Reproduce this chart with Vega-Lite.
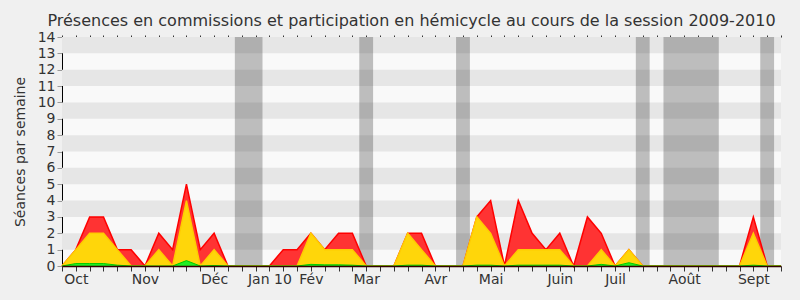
{
  "$schema": "https://vega.github.io/schema/vega-lite/v6.json",
  "width": 719,
  "height": 229,
  "autosize": {"type": "none"},
  "padding": {"left": 62, "top": 37, "right": 19, "bottom": 34},
  "background": "#f0f0f0",
  "title": {
    "text": "Présences en commissions et participation en hémicycle au cours de la session 2009-2010",
    "font": "DejaVu Sans",
    "fontSize": 16,
    "fontWeight": "normal",
    "color": "#333333",
    "anchor": "middle",
    "dx": -10,
    "offset": 1
  },
  "config": {
    "view": {"fill": "#f9f9f9", "stroke": null},
    "font": "DejaVu Sans"
  },
  "datasets": {
    "weeks": [
      {"w": 0, "total": 0, "comm": 0, "green": 0},
      {"w": 1, "total": 1, "comm": 1, "green": 0.15},
      {"w": 2, "total": 3, "comm": 2, "green": 0.15},
      {"w": 3, "total": 3, "comm": 2, "green": 0.15},
      {"w": 4, "total": 1, "comm": 1, "green": 0.05},
      {"w": 5, "total": 1, "comm": 0, "green": 0},
      {"w": 6, "total": 0, "comm": 0, "green": 0},
      {"w": 7, "total": 2, "comm": 1, "green": 0},
      {"w": 8, "total": 1, "comm": 0, "green": 0},
      {"w": 9, "total": 5, "comm": 4, "green": 0.33},
      {"w": 10, "total": 1, "comm": 0, "green": 0},
      {"w": 11, "total": 2, "comm": 1, "green": 0.03},
      {"w": 12, "total": 0, "comm": 0, "green": 0},
      {"w": 13, "total": 0, "comm": 0, "green": 0},
      {"w": 14, "total": 0, "comm": 0, "green": 0},
      {"w": 15, "total": 0, "comm": 0, "green": 0},
      {"w": 16, "total": 1, "comm": 0, "green": 0},
      {"w": 17, "total": 1, "comm": 0, "green": 0},
      {"w": 18, "total": 2, "comm": 2, "green": 0.1},
      {"w": 19, "total": 1, "comm": 1, "green": 0.07},
      {"w": 20, "total": 2, "comm": 1, "green": 0.07},
      {"w": 21, "total": 2, "comm": 1, "green": 0.05},
      {"w": 22, "total": 0, "comm": 0, "green": 0},
      {"w": 23, "total": 0, "comm": 0, "green": 0},
      {"w": 24, "total": 0, "comm": 0, "green": 0},
      {"w": 25, "total": 2, "comm": 2, "green": 0.05},
      {"w": 26, "total": 2, "comm": 1, "green": 0.05},
      {"w": 27, "total": 0, "comm": 0, "green": 0},
      {"w": 28, "total": 0, "comm": 0, "green": 0},
      {"w": 29, "total": 0, "comm": 0, "green": 0},
      {"w": 30, "total": 3, "comm": 3, "green": 0.05},
      {"w": 31, "total": 4, "comm": 2, "green": 0.05},
      {"w": 32, "total": 0, "comm": 0, "green": 0},
      {"w": 33, "total": 4, "comm": 1, "green": 0.05},
      {"w": 34, "total": 2, "comm": 1, "green": 0.05},
      {"w": 35, "total": 1, "comm": 1, "green": 0.05},
      {"w": 36, "total": 2, "comm": 1, "green": 0.05},
      {"w": 37, "total": 0, "comm": 0, "green": 0},
      {"w": 38, "total": 3, "comm": 0, "green": 0},
      {"w": 39, "total": 2, "comm": 1, "green": 0.1},
      {"w": 40, "total": 0, "comm": 0, "green": 0},
      {"w": 41, "total": 1, "comm": 1, "green": 0.2},
      {"w": 42, "total": 0, "comm": 0, "green": 0},
      {"w": 43, "total": 0, "comm": 0, "green": 0},
      {"w": 44, "total": 0, "comm": 0, "green": 0},
      {"w": 45, "total": 0, "comm": 0, "green": 0},
      {"w": 46, "total": 0, "comm": 0, "green": 0},
      {"w": 47, "total": 0, "comm": 0, "green": 0},
      {"w": 48, "total": 0, "comm": 0, "green": 0},
      {"w": 49, "total": 0, "comm": 0, "green": 0},
      {"w": 50, "total": 3, "comm": 2, "green": 0.05},
      {"w": 51, "total": 0, "comm": 0, "green": 0},
      {"w": 52, "total": 0, "comm": 0, "green": 0}
    ],
    "stripes": [
      {"lo": 1, "hi": 2}, {"lo": 3, "hi": 4}, {"lo": 5, "hi": 6},
      {"lo": 7, "hi": 8}, {"lo": 9, "hi": 10}, {"lo": 11, "hi": 12},
      {"lo": 13, "hi": 14}
    ],
    "holidays": [
      {"start": 12.5, "end": 14.5},
      {"start": 21.5, "end": 22.5},
      {"start": 28.5, "end": 29.5},
      {"start": 41.5, "end": 42.5},
      {"start": 43.5, "end": 47.5},
      {"start": 50.5, "end": 51.5}
    ]
  },
  "resolve": {"axis": {"x": "independent", "y": "independent"}},
  "layer": [
    {
      "data": {"name": "stripes"},
      "mark": {"type": "rect", "color": "#e6e6e6"},
      "encoding": {
        "y": {"field": "lo", "type": "quantitative", "scale": {"domain": [0, 14], "nice": false}, "axis": null},
        "y2": {"field": "hi"}
      }
    },
    {
      "data": {"name": "holidays"},
      "mark": {"type": "rect", "color": "#000000", "opacity": 0.24},
      "encoding": {
        "x": {"field": "start", "type": "quantitative", "scale": {"domain": [0, 52], "nice": false, "zero": false},
              "axis": {"orient": "top", "values": [0,1,2,3,4,5,6,7,8,9,10,11,12,13,14,15,16,17,18,19,20,21,22,23,24,25,26,27,28,29,30,31,32,33,34,35,36,37,38,39,40,41,42,43,44,45,46,47,48,49,50,51,52],
                       "labels": false, "domain": false, "grid": false, "tickSize": 2, "tickColor": "#333333", "title": null}},
        "x2": {"field": "end"}
      }
    },
    {
      "data": {"name": "weeks"},
      "mark": {"type": "area", "color": "#ff3333", "opacity": 1, "line": {"color": "#ff0000", "strokeWidth": 1.5}},
      "encoding": {
        "x": {"field": "w", "type": "quantitative", "scale": {"domain": [0, 52], "nice": false, "zero": false},
              "axis": {"orient": "bottom", "zindex": 1, "values": [0,1,2,3,4,5,6,7,8,9,10,11,12,13,14,15,16,17,18,19,20,21,22,23,24,25,26,27,28,29,30,31,32,33,34,35,36,37,38,39,40,41,42,43,44,45,46,47,48,49,50,51,52],
                       "labelExpr": "indexof([1,6,11,15,18,22,27,31,36,40,45,50], datum.value) >= 0 ? ['Oct','Nov','Déc','Jan 10','Fév','Mar','Avr','Mai','Juin','Juil','Août','Sept'][indexof([1,6,11,15,18,22,27,31,36,40,45,50], datum.value)] : ''",
                       "labelOverlap": false, "labelFontSize": 14, "labelColor": "#333333", "labelPadding": 1,
                       "domainColor": "#330000", "domainWidth": 1.5, "tickColor": "#333333", "tickSize": 5,
                       "grid": false, "title": null}},
        "y": {"field": "total", "type": "quantitative", "scale": {"domain": [0, 14], "nice": false},
              "axis": {"values": [0,1,2,3,4,5,6,7,8,9,10,11,12,13,14], "labelFontSize": 14, "labelColor": "#333333",
                       "tickColor": "#999999", "tickSize": 5, "labelPadding": 2, "domainColor": "#000000",
                       "grid": false, "title": "Séances par semaine", "titleFontSize": 14, "titleFontWeight": "normal",
                       "titleColor": "#333333", "titlePadding": 10}}
      }
    },
    {
      "data": {"name": "weeks"},
      "mark": {"type": "area", "color": "#ffd60a", "opacity": 1, "line": {"color": "#ffcc00", "strokeWidth": 1.5}},
      "encoding": {
        "x": {"field": "w", "type": "quantitative", "axis": null},
        "y": {"field": "comm", "type": "quantitative", "axis": null}
      }
    },
    {
      "data": {"name": "weeks"},
      "mark": {"type": "area", "color": "#22ee22", "opacity": 1, "line": {"color": "#00cc00", "strokeWidth": 1}},
      "encoding": {
        "x": {"field": "w", "type": "quantitative", "axis": null},
        "y": {"field": "green", "type": "quantitative", "axis": null}
      }
    }
  ]
}
